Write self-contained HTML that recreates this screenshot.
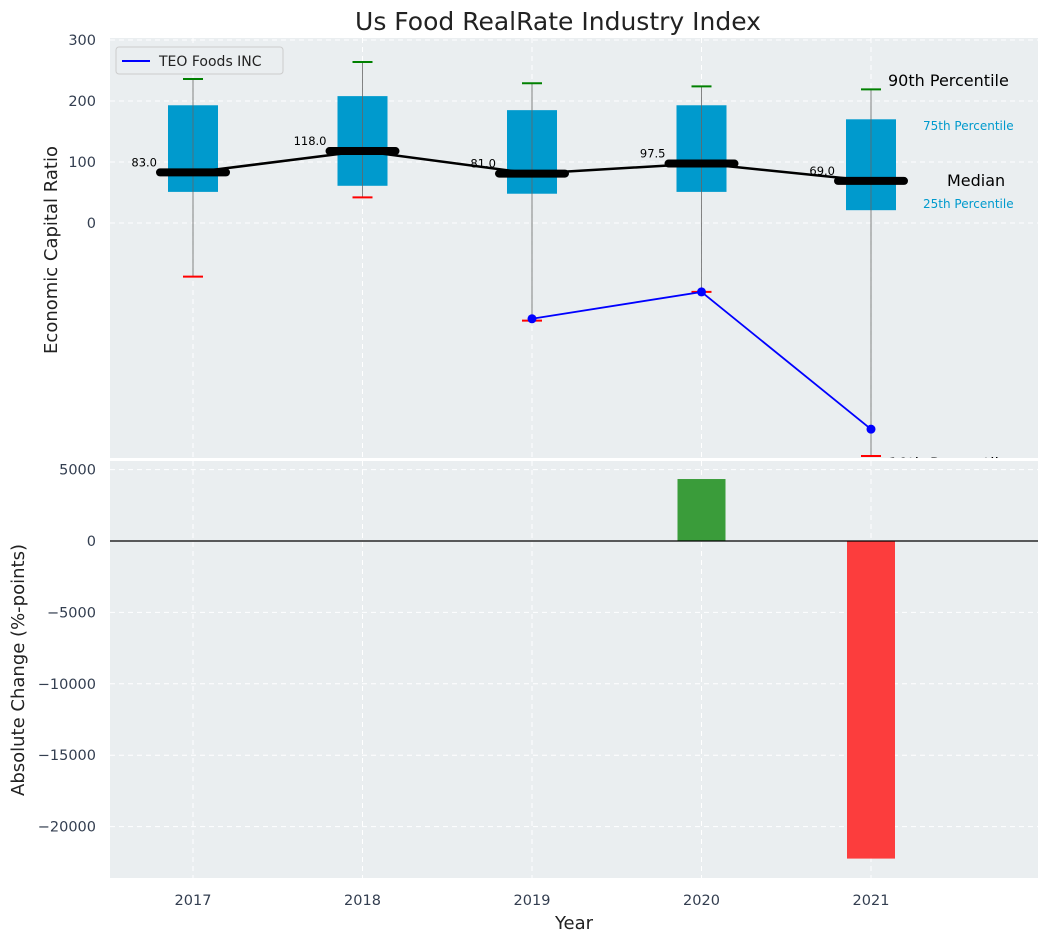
<!DOCTYPE html>
<html><head><meta charset="utf-8"><style>
body{margin:0;background:#fff;font-family:"Liberation Sans","DejaVu Sans",sans-serif}
svg text{font-family:"DejaVu Sans","Liberation Sans",sans-serif}
</style></head><body>
<svg id="c" width="1048" height="942" xmlns="http://www.w3.org/2000/svg"></svg>
<script>
const years=[2017,2018,2019,2020,2021];
const p10=[-88,42,-160,-113,-382];
const p25=[51,61,48,51,21];
const med=[83,118,81,97.5,69];
const p75=[193,208,185,193,170];
const p90=[236,264,229,224,219];
const teoYears=[2019,2020,2021];
const teoVals=[-157,-113,-338];
const changes=[0,0,0,4340,-22240];
const topTicks=[0,100,200,300];
const botTicks=[5000,0,-5000,-10000,-15000,-20000];

const svg=document.getElementById('c');
const NS='http://www.w3.org/2000/svg';
function mk(t,a,txt,name,parent){const e=document.createElementNS(NS,t);for(const k in a)e.setAttribute(k,a[k]);if(txt!=null)e.textContent=txt;


(parent||svg).appendChild(e);return e;}
const L=110,R=1038;
const x=y=>193+(y-2017)*169.5;
const yT=v=>223-0.61*v;
const yB=v=>541-0.01428*v;
mk('text',{x:558,y:30,'text-anchor':'middle','font-size':25,fill:'#222'},'Us Food RealRate Industry Index','chart-title');
mk('rect',{x:L,y:38,width:R-L,height:420,fill:'#eaeef0'},null,'top-plot-area');
const grid={stroke:'#fff','stroke-dasharray':'5,4','stroke-width':1};
topTicks.forEach(t=>{mk('line',{x1:L,x2:R,y1:yT(t),y2:yT(t),...grid},null,'top-gridline');
mk('text',{x:96,y:yT(t)+5,'text-anchor':'end','font-size':14.5,fill:'#333e50'},t,'top-y-tick');});
years.forEach(yr=>mk('line',{x1:x(yr),x2:x(yr),y1:38,y2:458,...grid},null,'top-vgridline'));
mk('text',{x:57,y:250,'text-anchor':'middle','font-size':18,fill:'#222',transform:'rotate(-90 57 250)'},'Economic Capital Ratio','top-y-axis-title');
years.forEach((yr,i)=>{const cx=x(yr);
mk('rect',{x:cx-25,y:yT(p75[i]),width:50,height:yT(p25[i])-yT(p75[i]),fill:'#009ACD'},null,'box-'+yr);
mk('line',{x1:cx,x2:cx,y1:yT(p90[i]),y2:yT(p10[i]),stroke:'#666','stroke-width':1,opacity:0.8},null,'whisker-'+yr);
mk('line',{x1:cx-10,x2:cx+10,y1:yT(p90[i]),y2:yT(p90[i]),stroke:'green','stroke-width':2},null,'p90-marker-'+yr);
mk('line',{x1:cx-10,x2:cx+10,y1:yT(p10[i]),y2:yT(p10[i]),stroke:'red','stroke-width':2},null,'p10-marker-'+yr);
});
mk('polyline',{points:years.map((yr,i)=>x(yr)+','+yT(med[i])).join(' '),fill:'none',stroke:'#000','stroke-width':2.5},null,'median-line');
years.forEach((yr,i)=>{const cx=x(yr);
mk('line',{x1:cx-33,x2:cx+33,y1:yT(med[i]),y2:yT(med[i]),stroke:'#000','stroke-width':8,'stroke-linecap':'round'},null,'median-bar-'+yr);
mk('text',{x:cx-36,y:yT(med[i])-6,'text-anchor':'end','font-size':11.5,fill:'#000'},med[i].toFixed(1),'median-label-'+yr);});
mk('polyline',{points:teoYears.map((yr,i)=>x(yr)+','+yT(teoVals[i])).join(' '),fill:'none',stroke:'blue','stroke-width':1.8},null,'teo-line');
teoYears.forEach((yr,i)=>mk('circle',{cx:x(yr),cy:yT(teoVals[i]),r:4.5,fill:'blue'},null,'teo-point-'+yr));
const lx=x(2021);
mk('text',{x:lx+17,y:86,'font-size':16,fill:'#000'},'90th Percentile','p90-annotation');
mk('text',{x:lx+52,y:130,'font-size':12,fill:'#009ACD'},'75th Percentile','p75-annotation');
mk('text',{x:lx+76,y:186,'font-size':16,fill:'#000'},'Median','median-annotation');
mk('text',{x:lx+52,y:208,'font-size':12,fill:'#009ACD'},'25th Percentile','p25-annotation');
mk('text',{x:lx+17,y:469,'font-size':16,fill:'#000'},'10th Percentile','p10-annotation');
const lg=mk('g',{},null,'legend');
mk('rect',{x:116,y:47,width:167,height:27,rx:3,fill:'#eaeef0',stroke:'#ccc'},null,'legend-box',lg);
mk('line',{x1:122,x2:150,y1:61,y2:61,stroke:'blue','stroke-width':2},null,'legend-swatch',lg);
mk('text',{x:159,y:66,'font-size':14,fill:'#222'},'TEO Foods INC','legend-label',lg);
mk('rect',{x:L,y:458,width:R-L,height:3,fill:'#fff'},null,'axes-gap');
mk('rect',{x:L,y:461,width:R-L,height:417,fill:'#eaeef0'},null,'bottom-plot-area');
botTicks.forEach(t=>{mk('line',{x1:L,x2:R,y1:yB(t),y2:yB(t),...grid},null,'bottom-gridline');
mk('text',{x:96,y:yB(t)+5,'text-anchor':'end','font-size':14.5,fill:'#333e50'},t<0?'\u2212'+(-t):t,'bottom-y-tick');});
years.forEach(yr=>{mk('line',{x1:x(yr),x2:x(yr),y1:461,y2:878,...grid},null,'bottom-vgridline');
mk('text',{x:x(yr),y:905,'text-anchor':'middle','font-size':14.5,fill:'#333e50'},yr,'x-tick-'+yr);});
years.forEach((yr,i)=>{const v=changes[i];if(!v)return;
mk('rect',{x:x(yr)-24,y:Math.min(yB(v),yB(0)),width:48,height:Math.abs(yB(v)-yB(0)),fill:v>0?'#3a9c3a':'#fc3d3d'},null,'change-bar-'+yr);});
mk('line',{x1:L,x2:R,y1:yB(0),y2:yB(0),stroke:'#000','stroke-width':1.2},null,'zero-line');
mk('text',{x:24,y:670,'text-anchor':'middle','font-size':18,fill:'#222',transform:'rotate(-90 24 670)'},'Absolute Change (%-points)','bottom-y-axis-title');
mk('text',{x:574,y:929,'text-anchor':'middle','font-size':18,fill:'#222'},'Year','x-axis-title');
</script>
</body></html>
